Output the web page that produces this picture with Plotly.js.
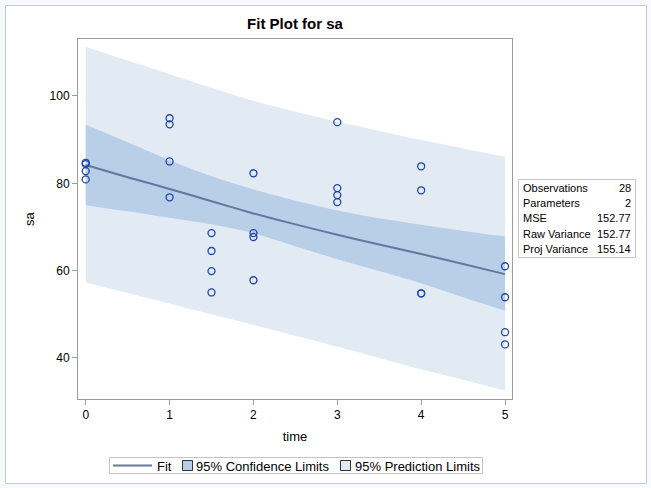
<!DOCTYPE html>
<html>
<head>
<meta charset="utf-8">
<script src="https://cdn.plot.ly/plotly-3.0.1.min.js"></script>
<style>html,body{margin:0;padding:0;background:#f7f9fd;}#chart{width:651px;height:488px;}</style>
</head>
<body>
<div id="chart"></div>
<script>
// Observed data
const time = [0,0,0,0, 1,1,1,1, 1.5,1.5,1.5,1.5, 2,2,2,2, 3,3,3,3, 4,4,4,4, 5,5,5,5];
const sa   = [84.7,84.4,82.8,80.9, 94.9,93.5,85.0,76.8, 68.6,64.5,59.9,55.0, 82.3,68.6,67.7,57.8, 94.0,78.9,77.3,75.7, 83.9,78.4,54.8,54.8, 61.0,53.9,45.9,43.1];

// Fit curve and limits
const gridX     = [0, 0.5, 1, 1.5, 2, 2.5, 3, 3.5, 4, 4.5, 5];
const fitY      = [84.2, 81.4, 78.7, 75.9, 73.1, 70.6, 68.2, 66.0, 63.8, 61.5, 59.2];
const confUpper = [93.4, 89.4, 85.3, 81.6, 78.6, 76.0, 73.8, 72.0, 70.5, 69.1, 67.8];
const confLower = [75.0, 73.6, 72.1, 70.6, 68.6, 65.6, 62.6, 59.9, 57.1, 53.9, 50.8];
const predUpper = [111.3, 108.1, 105.0, 101.9, 98.9, 96.4, 94.1, 92.0, 89.9, 88.0, 86.1];
const predLower = [57.3, 54.9, 52.5, 50.0, 47.6, 45.1, 42.6, 40.0, 37.4, 35.0, 32.5];

// Fit statistics
const statLabels = ["Observations", "Parameters", "MSE", "Raw Variance", "Proj Variance"];
const statValues = ["28", "2", "152.77", "152.77", "155.14"];

// Legend entries
const legendNames = ["Fit", "95% Confidence Limits", "95% Prediction Limits"];

const xTicks = [0, 1, 2, 3, 4, 5];
const yTicks = [40, 60, 80, 100];

const FONT = "Liberation Sans, Arial, sans-serif";
const predColor = "#e2eaf4";
const confColor = "#b9cee7";
const fitColor = "#66779f";

const traces = [
  {x: gridX, y: predLower, mode: "lines", line: {width: 0, color: predColor, shape: "spline", smoothing: 0.6}, hoverinfo: "skip"},
  {x: gridX, y: predUpper, mode: "lines", fill: "tonexty", fillcolor: predColor, line: {width: 0, color: predColor, shape: "spline", smoothing: 0.6}},
  {x: gridX, y: confLower, mode: "lines", line: {width: 0, color: confColor, shape: "spline", smoothing: 0.6}, hoverinfo: "skip"},
  {x: gridX, y: confUpper, mode: "lines", fill: "tonexty", fillcolor: confColor, line: {width: 0, color: confColor, shape: "spline", smoothing: 0.6}},
  {x: gridX, y: fitY, mode: "lines", line: {color: fitColor, width: 2, shape: "spline", smoothing: 0.4}},
  {x: time, y: sa, mode: "markers",
   marker: {symbol: "circle-open", size: 7, color: "#1d45b0", line: {width: 1.3, color: "#1d45b0"}}}
];

// Plot area geometry (px)
const L = 78, R = 512, T = 39, B = 399, W = 651, H = 488;
const pw = R - L, ph = B - T;
const px2x = p => (p - L) / pw;
const py2y = p => (B - p) / ph;

const shapes = [
  {type: "rect", xref: "paper", yref: "paper", layer: "below",
   x0: px2x(5.5), x1: px2x(646.5), y0: py2y(483.5), y1: py2y(5.5),
   fillcolor: "#ffffff", line: {color: "#c9ccd3", width: 1}},
  // stats box
  {type: "rect", xref: "paper", yref: "paper",
   x0: px2x(518.5), x1: px2x(635.5), y0: py2y(257.5), y1: py2y(179.5),
   fillcolor: "rgba(0,0,0,0)", line: {color: "#c4c4c4", width: 1}},
  // legend box
  {type: "rect", xref: "paper", yref: "paper",
   x0: px2x(109.5), x1: px2x(482.5), y0: py2y(473.5), y1: py2y(457.5),
   fillcolor: "#ffffff", line: {color: "#c4c4c4", width: 1}},
  // legend: fit line sample
  {type: "line", xref: "paper", yref: "paper",
   x0: px2x(113), x1: px2x(152), y0: py2y(465.5), y1: py2y(465.5),
   line: {color: fitColor, width: 2}},
  // legend: confidence swatch
  {type: "rect", xref: "paper", yref: "paper",
   x0: px2x(182.5), x1: px2x(192.5), y0: py2y(470.5), y1: py2y(460.5),
   fillcolor: confColor, line: {color: "#333", width: 1}},
  // legend: prediction swatch
  {type: "rect", xref: "paper", yref: "paper",
   x0: px2x(340.5), x1: px2x(350.5), y0: py2y(470.5), y1: py2y(460.5),
   fillcolor: predColor, line: {color: "#333", width: 1}}
];

const annotations = [];
statLabels.forEach((lab, i) => {
  const yy = py2y(188 + i * 15.2);
  annotations.push({xref: "paper", yref: "paper", x: px2x(521), y: yy, xanchor: "left", yanchor: "middle",
    text: lab, showarrow: false, font: {family: FONT, size: 11, color: "#000"}});
  annotations.push({xref: "paper", yref: "paper", x: px2x(633), y: yy, xanchor: "right", yanchor: "middle",
    text: statValues[i], showarrow: false, font: {family: FONT, size: 11, color: "#000"}});
});
const legendTextX = [155, 194, 353];
legendNames.forEach((nm, i) => {
  annotations.push({xref: "paper", yref: "paper", x: px2x(legendTextX[i]), y: py2y(466), xanchor: "left", yanchor: "middle",
    text: nm, showarrow: false, font: {family: FONT, size: 13, color: "#000"}});
});

const layout = {
  width: W, height: H,
  paper_bgcolor: "#f7f9fd",
  plot_bgcolor: "#ffffff",
  showlegend: false,
  margin: {l: L, r: W - R, t: T, b: H - B, pad: 0},
  font: {family: FONT, size: 12, color: "#000"},
  title: {text: "Fit Plot for sa", x: (L + R) / 2 / W, xanchor: "center",
          y: 1 - 24 / H, yanchor: "middle", font: {family: FONT, size: 15, weight: 700, color: "#000"}},
  xaxis: {range: [-0.092, 5.083], tickvals: xTicks, ticktext: xTicks.map(String), automargin: false,
          showline: true, mirror: true, linecolor: "#9c9c9c", linewidth: 1,
          ticks: "outside", ticklen: 5, tickcolor: "#9c9c9c", showgrid: false, zeroline: false,
          tickfont: {family: FONT, size: 12},
          title: {text: "time", font: {family: FONT, size: 13}, standoff: 10}},
  yaxis: {range: [30.6, 113.05], tickvals: yTicks, ticktext: yTicks.map(String), automargin: false,
          showline: true, mirror: true, linecolor: "#9c9c9c", linewidth: 1,
          ticks: "outside", ticklen: 5, tickcolor: "#9c9c9c", showgrid: false, zeroline: false,
          tickfont: {family: FONT, size: 12},
          title: {text: "sa", font: {family: FONT, size: 13}, standoff: 12}},
  shapes: shapes,
  annotations: annotations
};

Plotly.newPlot("chart", traces, layout, {displayModeBar: false, staticPlot: true});
</script>
</body>
</html>
